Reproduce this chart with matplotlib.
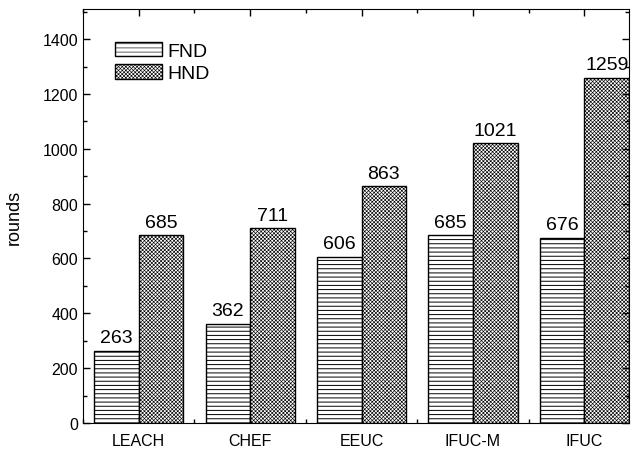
import numpy as np
import matplotlib.pyplot as plt
from matplotlib.ticker import MultipleLocator

plt.rcParams['font.family'] = ['Liberation Sans', 'DejaVu Sans']

protocols = ["LEACH", "CHEF", "EEUC", "IFUC-M", "IFUC"]
fnd = [263, 362, 606, 685, 676]
hnd = [685, 711, 863, 1021, 1259]


def main():
    fig = plt.figure(figsize=(6.38, 4.52), dpi=100)
    ax = fig.add_axes([0.130, 0.062, 0.856, 0.916])

    x = np.arange(1, len(protocols) + 1)
    w = 0.4

    # hatch line width is picked up when each patch is created
    plt.rcParams['hatch.linewidth'] = 0.7
    b1 = ax.bar(x - w / 2, fnd, w, color="white", edgecolor="black",
                hatch="----", linewidth=1.0, label="FND")
    plt.rcParams['hatch.linewidth'] = 0.45
    b2 = ax.bar(x + w / 2, hnd, w, color="white", edgecolor="black",
                hatch="xxxxxxxxx", linewidth=1.0, label="HND")

    for bars, vals in ((b1, fnd), (b2, hnd)):
        for bar, v in zip(bars, vals):
            ax.text(bar.get_x() + bar.get_width() / 2, v + 16, str(v),
                    ha="center", va="bottom", fontsize=14)

    ax.set_xlim(0.5, 5.4)
    ax.set_ylim(0, 1510)
    ax.set_xticks(x)
    ax.set_xticklabels(protocols)
    ax.xaxis.set_minor_locator(MultipleLocator(0.5))
    ax.yaxis.set_major_locator(MultipleLocator(200))
    ax.yaxis.set_minor_locator(MultipleLocator(100))
    ax.tick_params(which="both", direction="in", top=True, right=True,
                   labelsize=11.5, width=1.0)
    ax.tick_params(which="major", length=5)
    ax.tick_params(which="minor", length=3)
    ax.tick_params(axis="x", pad=7)
    ax.set_ylabel("rounds", fontsize=13, labelpad=14)

    ax.legend(loc="upper left", bbox_to_anchor=(0.045, 0.94), frameon=False,
              fontsize=14, handlelength=2.4, handleheight=0.8,
              handletextpad=0.3, labelspacing=0.2, borderaxespad=0)

    plt.savefig("out.png", dpi=100)


if __name__ == '__main__':
    main()
